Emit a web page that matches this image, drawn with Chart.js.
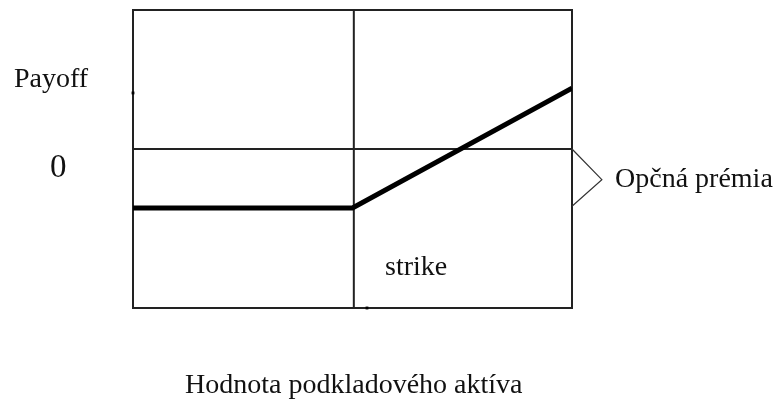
<!DOCTYPE html>
<html>
<head>
<meta charset="utf-8">
<script src="https://cdn.jsdelivr.net/npm/chart.js@4.4.1/dist/chart.umd.min.js"></script>
<style>
  html, body { margin: 0; padding: 0; background: #fff; }
  #wrap { width: 782px; height: 399px; }
</style>
</head>
<body>
<div id="wrap"><canvas id="payoffChart"></canvas></div>
<script>
// Long call payoff sketch (underlying value vs. payoff)
const underlying = [0, 50, 100];
const payoff = [-1, -1, 1.03];
const strike = 50.3;
const yRange = [-2.695, 2.356];

// bracket marking the option premium, right of the box
const bracketX = [100, 106.8, 100];
const bracketY = [0, -0.52, -0.97];

// the two stray tick marks on the frame
const markX = [0, 53.3];
const markY = [0.95, -2.695];

const labelFont = '28px "Liberation Serif", "Times New Roman", serif';

const sketchPlugin = {
    id: 'sketch',
    beforeDatasetsDraw(chart) {
        const { ctx, chartArea: a, scales } = chart;
        const xs = scales.x.getPixelForValue(strike);
        const y0 = scales.y.getPixelForValue(0);
        ctx.save();
        ctx.strokeStyle = '#222';
        ctx.lineWidth = 2;
        ctx.strokeRect(a.left, a.top, a.right - a.left, a.bottom - a.top);
        ctx.beginPath();
        ctx.moveTo(xs, a.top);
        ctx.lineTo(xs, a.bottom);
        ctx.moveTo(a.left, y0);
        ctx.lineTo(a.right, y0);
        ctx.stroke();
        ctx.restore();
    },
    afterDraw(chart) {
        const { ctx } = chart;
        ctx.save();
        ctx.fillStyle = '#111';
        ctx.font = labelFont;
        ctx.textBaseline = 'alphabetic';
        ctx.fillText('Payoff', 14, 87);
        ctx.fillText('Opčná prémia', 615, 187);
        ctx.fillText('strike', 385, 275);
        ctx.fillText('Hodnota podkladového aktíva', 185, 393);
        ctx.font = '33px "Liberation Serif", "Times New Roman", serif';
        ctx.fillText('0', 50, 177);
        ctx.restore();
    }
};

new Chart(document.getElementById('payoffChart'), {
    type: 'line',
    data: {
        datasets: [
            {
                data: underlying.map((x, i) => ({ x: x, y: payoff[i] })),
                borderColor: '#000',
                borderWidth: 5,
                pointRadius: 0,
                tension: 0
            },
            {
                data: bracketX.map((x, i) => ({ x: x, y: bracketY[i] })),
                borderColor: '#333',
                borderWidth: 1.2,
                pointRadius: 0,
                tension: 0,
                clip: false
            },
            {
                type: 'scatter',
                data: markX.map((x, i) => ({ x: x, y: markY[i] })),
                backgroundColor: '#000',
                borderWidth: 0,
                pointStyle: 'rect',
                pointRadius: 2,
                clip: false
            }
        ]
    },
    options: {
        responsive: true,
        maintainAspectRatio: false,
        animation: false,
        layout: { padding: { left: 133, right: 210, top: 10, bottom: 91 } },
        plugins: {
            legend: { display: false },
            tooltip: { enabled: false }
        },
        scales: {
            x: { type: 'linear', display: false, min: 0, max: 100 },
            y: { type: 'linear', display: false, min: yRange[0], max: yRange[1] }
        }
    },
    plugins: [sketchPlugin]
});
</script>
</body>
</html>
